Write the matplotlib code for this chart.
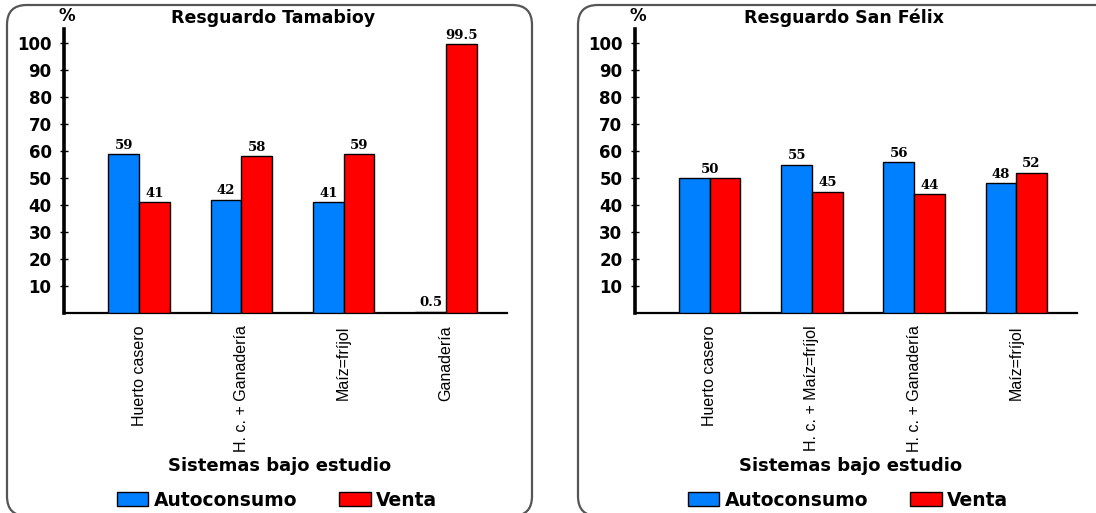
import matplotlib
matplotlib.use("Agg")
import matplotlib.pyplot as plt
import numpy as np
from matplotlib.patches import FancyBboxPatch, Patch

# porcentaje de la producción destinada a autoconsumo y venta
titulos = ["Resguardo Tamabioy", "Resguardo San Félix"]
sistemas_tamabioy = ["Huerto casero", "H. c. + Ganadería", "Maíz=fríjol", "Ganadería"]
auto_tamabioy = [59, 42, 41, 0.5]
venta_tamabioy = [41, 58, 59, 99.5]
sistemas_sanfelix = ["Huerto casero", "H. c. + Maíz=fríjol", "H. c. + Ganadería", "Maíz=fríjol"]
auto_sanfelix = [50, 55, 56, 48]
venta_sanfelix = [50, 45, 44, 52]
yticks = [10, 20, 30, 40, 50, 60, 70, 80, 90, 100]

AZUL = "#0080ff"
ROJO = "#ff0000"
W, H = 1096, 513

fig = plt.figure(figsize=(W / 100, H / 100), dpi=100)
fig.patch.set_facecolor("white")

def px_box(x0, y0, x1, y1):
    # pixel coords (top-left origin) -> figure fraction rect
    return [x0 / W, 1 - y1 / H, (x1 - x0) / W, (y1 - y0) / H]

def marco(x0, x1):
    r = px_box(x0, 5, x1, 516)
    fig.patches.append(FancyBboxPatch((r[0], r[1]), r[2], r[3],
                                      boxstyle="round,pad=0,rounding_size=0.018",
                                      transform=fig.transFigure, fill=False,
                                      edgecolor="#555555", linewidth=1.6,
                                      mutation_aspect=W / H, zorder=0))

def panel(x_off, x_end, titulo, sistemas, auto, venta, box_x0):
    ax = fig.add_axes(px_box(x_off, 29, x_end, 313))
    n = len(sistemas)
    x = np.arange(n)
    w = 0.3
    ax.bar(x - w / 2, auto, w, color=AZUL, edgecolor="black", linewidth=1.0, zorder=3)
    ax.bar(x + w / 2, venta, w, color=ROJO, edgecolor="black", linewidth=1.0, zorder=3)

    vfont = dict(family="DejaVu Serif", fontweight="bold", fontsize=9.5)
    for i in range(n):
        if auto[i] == venta[i]:
            ax.text(x[i], auto[i] + 0.8, f"{auto[i]:g}", ha="center", va="bottom", **vfont)
        else:
            ax.text(x[i] - w / 2, auto[i] + 0.8, f"{auto[i]:g}", ha="center", va="bottom", **vfont)
            ax.text(x[i] + w / 2, venta[i] + 0.8, f"{venta[i]:g}", ha="center", va="bottom", **vfont)

    ax.set_xlim(-0.733, 3.596)
    ax.set_ylim(0, 105.2)
    ax.set_yticks(yticks)
    ax.set_yticklabels([str(t) for t in yticks], fontweight="bold", fontsize=12,
                       family="DejaVu Sans")
    ax.tick_params(axis="y", direction="inout", length=6, width=1.0, pad=6)
    ax.set_xticks(x)
    ax.set_xticklabels(sistemas, rotation=90, fontsize=11.5,
                       family=["Liberation Sans", "DejaVu Sans"])
    ax.tick_params(axis="x", length=0, pad=9)

    for s in ("top", "right"):
        ax.spines[s].set_visible(False)
    ax.spines["left"].set_linewidth(2.6)
    ax.spines["bottom"].set_linewidth(1.6)

    cx = (box_x0 + 266) / W
    fig.text(cx, 1 - 18 / H, titulo, ha="center", va="center",
             fontweight="bold", fontsize=12.5, family="DejaVu Sans")
    fig.text((x_off + 3) / W, 1 - 16 / H, "%", ha="center", va="center",
             fontweight="bold", fontsize=12, family="DejaVu Sans")
    fig.text(cx + 7 / W, 1 - 466 / H, "Sistemas bajo estudio", ha="center", va="center",
             fontweight="bold", fontsize=13, family="DejaVu Sans")

    handles = [Patch(facecolor=AZUL, edgecolor="black", linewidth=1.0),
               Patch(facecolor=ROJO, edgecolor="black", linewidth=1.0)]
    fig.legend(handles, ["Autoconsumo", "Venta"], loc="center",
               bbox_to_anchor=(cx + 4 / W, 1 - 500 / H), ncol=2, frameon=False,
               prop=dict(weight="bold", size=13.5, family="DejaVu Sans"),
               handlelength=1.7, handleheight=0.72, handletextpad=0.3,
               columnspacing=2.2, borderpad=0)

marco(7, 532)
marco(578, 1125)
panel(64, 507, titulos[0], sistemas_tamabioy, auto_tamabioy, venta_tamabioy, 7)
panel(635, 1077, titulos[1], sistemas_sanfelix, auto_sanfelix, venta_sanfelix, 578)

fig.savefig("out.png", dpi=100, facecolor="white")
